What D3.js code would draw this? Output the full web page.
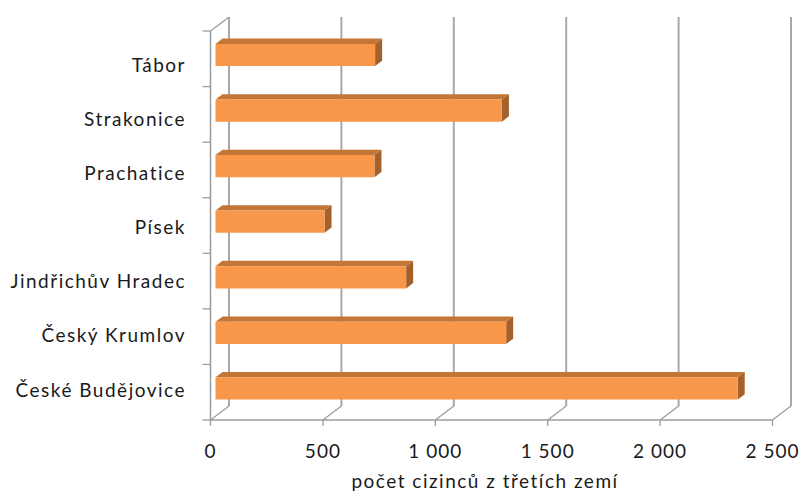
<!DOCTYPE html>
<html>
<head>
<meta charset="utf-8">
<script src="https://cdn.jsdelivr.net/npm/d3@7"></script>
<style>
  html, body { margin: 0; padding: 0; background: #ffffff; }
  svg { display: block; }
  text { font-family: Lato, "Noto Sans", sans-serif; fill: #1a1a1a; }
</style>
</head>
<body>
<svg id="chart" width="801" height="493"></svg>
<script>
// Foreigners from third countries by district (South Bohemian Region)
const districts = ["Tábor", "Strakonice", "Prachatice", "Písek", "Jindřichův Hradec", "Český Krumlov", "České Budějovice"];
const foreigners = [710, 1274, 707, 485, 848, 1293, 2323];
const xTicks = [0, 500, 1000, 1500, 2000, 2500];
const xTickLabels = ["0", "500", "1 000", "1 500", "2 000", "2 500"];
const axisTitle = "počet cizinců z třetích zemí";

const svg = d3.select("#chart");

// Oblique projection of the 3D plot box: depth 0 = front plane, depth 1 = back wall
const DX = 18.5, DY = -14;
const frontTop = 31, frontBottom = 420;

const x = d3.scaleLinear().domain([0, 2500]).range([210.5, 772.5]);
const y = d3.scaleBand().domain(districts).range([frontTop, frontBottom])
  .paddingInner(0.6).paddingOuter(0.3);
const labelY = d3.scalePoint().domain(districts).range([65, 390]);

const P = (px, py, d) => [px + d * DX, py + d * DY];
const poly = pts => "M" + pts.map(p => p.join(",")).join("L") + "Z";

const gridColor = "#a8a8a8";
const axisColor = "#9c9c9c";

// back-wall gridlines and their floor diagonals
const grid = svg.append("g");
xTicks.forEach(v => {
  const back0 = P(x(v), frontBottom, 1), back1 = P(x(v), frontTop, 1);
  grid.append("line")
    .attr("x1", back0[0]).attr("y1", back0[1])
    .attr("x2", back1[0]).attr("y2", back1[1])
    .attr("stroke", gridColor).attr("stroke-width", 2);
  grid.append("line")
    .attr("x1", x(v)).attr("y1", frontBottom)
    .attr("x2", back0[0]).attr("y2", back0[1])
    .attr("stroke", axisColor).attr("stroke-width", 1.3);
});

// left wall: front vertical edge + top diagonal
const leftTopBack = P(x(0), frontTop, 1);
grid.append("line")
  .attr("x1", x(0)).attr("y1", frontTop).attr("x2", x(0)).attr("y2", frontBottom)
  .attr("stroke", axisColor).attr("stroke-width", 1.5);
grid.append("line")
  .attr("x1", x(0)).attr("y1", frontTop).attr("x2", leftTopBack[0]).attr("y2", leftTopBack[1])
  .attr("stroke", axisColor).attr("stroke-width", 1.3);

// bottom front axis line with ticks
grid.append("line")
  .attr("x1", x(0)).attr("y1", frontBottom).attr("x2", x(2500)).attr("y2", frontBottom)
  .attr("stroke", axisColor).attr("stroke-width", 1.5);
xTicks.forEach(v => {
  grid.append("line")
    .attr("x1", x(v)).attr("y1", frontBottom).attr("x2", x(v)).attr("y2", frontBottom + 6)
    .attr("stroke", axisColor).attr("stroke-width", 1.3);
});

// category boundary ticks on the left axis
const step = y.step();
d3.range(districts.length + 1).forEach(i => {
  const ty = frontTop + i * step;
  grid.append("line")
    .attr("x1", x(0) - 8).attr("y1", ty).attr("x2", x(0)).attr("y2", ty)
    .attr("stroke", axisColor).attr("stroke-width", 1.3);
});

// 3D bars
const d1 = 0.27, d2 = 0.65;
const bars = svg.append("g").selectAll("g").data(districts).join("g");
bars.each(function (name, i) {
  const g = d3.select(this);
  const v = foreigners[i];
  const x0 = x(0), x1 = x(v);
  const yt = y(name), yb = y(name) + y.bandwidth();
  // top face
  g.append("path")
    .attr("d", poly([P(x0, yt, d1), P(x1, yt, d1), P(x1, yt, d2), P(x0, yt, d2)]))
    .attr("fill", "#c47636");
  // right side face
  g.append("path")
    .attr("d", poly([P(x1, yt, d1), P(x1, yt, d2), P(x1, yb, d2), P(x1, yb, d1)]))
    .attr("fill", "#a5612c");
  // front face
  g.append("path")
    .attr("d", poly([P(x0, yt, d1), P(x1, yt, d1), P(x1, yb, d1), P(x0, yb, d1)]))
    .attr("fill", "#f89749");
});

// category labels
svg.append("g").selectAll("text").data(districts).join("text")
  .attr("x", 186)
  .attr("y", d => labelY(d))
  .attr("dy", "0.35em")
  .attr("text-anchor", "end")
  .attr("font-size", 19)
  .attr("letter-spacing", 1.5)
  .text(d => d);

// value axis labels
svg.append("g").selectAll("text").data(xTicks).join("text")
  .attr("x", v => x(v))
  .attr("y", 458)
  .attr("text-anchor", "middle")
  .attr("font-size", 19)
  .attr("letter-spacing", 1)
  .text((v, i) => xTickLabels[i]);

// axis title
svg.append("text")
  .attr("x", 485)
  .attr("y", 488)
  .attr("text-anchor", "middle")
  .attr("font-size", 19)
  .attr("letter-spacing", 1.5)
  .text(axisTitle);
</script>
</body>
</html>
